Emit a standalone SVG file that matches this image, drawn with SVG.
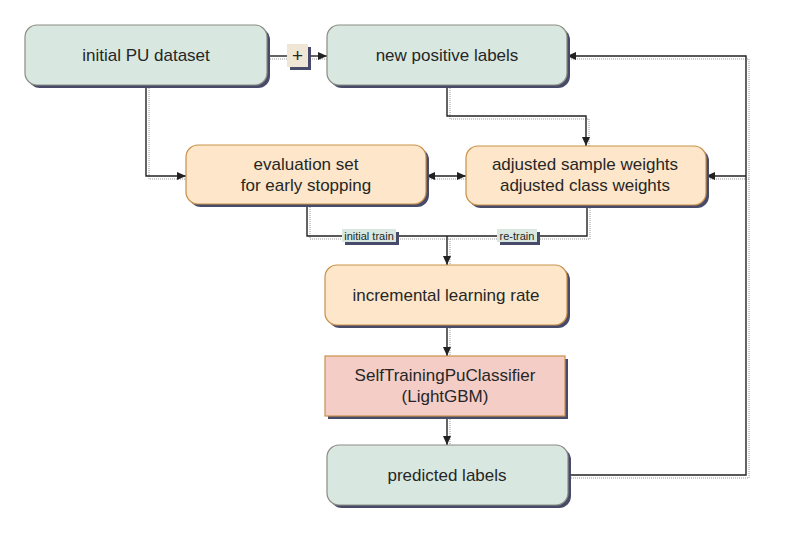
<svg xmlns="http://www.w3.org/2000/svg" width="785" height="538" viewBox="0 0 785 538">
<defs>
<marker id="ah" markerWidth="10" markerHeight="10" refX="9" refY="5" orient="auto" markerUnits="userSpaceOnUse">
<path d="M0,1 L9,5 L0,9 Z" fill="#222"/>
</marker>
<marker id="ahs" markerWidth="10" markerHeight="10" refX="1" refY="5" orient="auto" markerUnits="userSpaceOnUse">
<path d="M10,1 L1,5 L10,9 Z" fill="#222"/>
</marker>
</defs>
<style>
text{font-family:"Liberation Sans",Arial,sans-serif;font-size:17px;fill:#262626;text-anchor:middle}
.sh{fill:#474a68}
.g{fill:#d8e8e0;stroke:#8c8c84;stroke-width:1.2}
.o{fill:#fde6c9;stroke:#c8914a;stroke-width:1.2}
.p{fill:#f4cdc7;stroke:#c8914a;stroke-width:1.2}
.c{fill:none;stroke:#222;stroke-width:1.4}
.cs{fill:none;stroke:#999;stroke-width:1;stroke-dasharray:1 1}
.lb{font-size:11px}
</style>
<rect width="785" height="538" fill="#fff"/>
<g id="connectors">
<g class="cs" transform="translate(3,3)">
<path d="M267,56 H287 M307,56 H327"/>
<path d="M146,85 V176 H186"/>
<path d="M447,85 V116 H586 V146"/>
<path d="M426,176 H466"/>
<path d="M307,204 V236 H587 V205"/>
<path d="M447,236 V265"/>
<path d="M447,325 V356"/>
<path d="M447,416 V445"/>
<path d="M568,475 H746 V56 H567 M746,176 H706"/>
</g>
<path class="c" d="M267,56 H287"/>
<path class="c" d="M307,56 H327" marker-end="url(#ah)"/>
<path class="c" d="M146,85 V176 H186" marker-end="url(#ah)"/>
<path class="c" d="M447,85 V116 H586 V146" marker-end="url(#ah)"/>
<path class="c" d="M426,176 H466" marker-start="url(#ahs)" marker-end="url(#ah)"/>
<path class="c" d="M307,204 V236 H587 V205"/>
<path class="c" d="M447,236 V265" marker-end="url(#ah)"/>
<path class="c" d="M447,325 V356" marker-end="url(#ah)"/>
<path class="c" d="M447,416 V445" marker-end="url(#ah)"/>
<path class="c" d="M568,475 H746 V56 H567" marker-end="url(#ah)"/>
<path class="c" d="M746,176 H706" marker-end="url(#ah)"/>
<g id="lbl-initial">
<rect x="345" y="232" width="54" height="13" class="sh"/>
<rect x="342" y="229" width="54" height="13" fill="#d8e8e0"/>
<text x="369" y="240" class="lb">initial train</text>
</g>
<g id="lbl-retrain">
<rect x="500" y="232" width="40" height="13" class="sh"/>
<rect x="497" y="229" width="40" height="13" fill="#d8e8e0"/>
<text x="517" y="240" class="lb">re-train</text>
</g>
<g id="plus">
<rect x="290" y="47" width="21" height="23" class="sh"/>
<rect x="287" y="44" width="21" height="23" fill="#f0e6d6"/>
<text x="297.5" y="62" style="font-size:19px">+</text>
</g>
</g>
<g id="initial-pu">
<rect x="28" y="28" width="242" height="60" rx="12" class="sh"/>
<rect x="25" y="25" width="242" height="60" rx="12" class="g"/>
<text x="146" y="61">initial PU dataset</text>
</g>
<g id="new-positive">
<rect x="330" y="28" width="240" height="60" rx="12" class="sh"/>
<rect x="327" y="25" width="240" height="60" rx="12" class="g"/>
<text x="447" y="61">new positive labels</text>
</g>
<g id="evaluation">
<rect x="189" y="148" width="240" height="59" rx="12" class="sh"/>
<rect x="186" y="145" width="240" height="59" rx="12" class="o"/>
<text x="306" y="170">evaluation set</text>
<text x="306" y="191">for early stopping</text>
</g>
<g id="weights">
<rect x="469" y="149" width="240" height="59" rx="12" class="sh"/>
<rect x="466" y="146" width="240" height="59" rx="12" class="o"/>
<text x="585" y="170">adjusted sample weights</text>
<text x="585" y="191">adjusted class weights</text>
</g>
<g id="incremental">
<rect x="328" y="268" width="242" height="60" rx="12" class="sh"/>
<rect x="325" y="265" width="242" height="60" rx="12" class="o"/>
<text x="446" y="301">incremental learning rate</text>
</g>
<g id="classifier">
<rect x="328" y="359" width="240" height="60" class="sh"/>
<rect x="325" y="356" width="240" height="60" class="p"/>
<text x="445" y="381">SelfTrainingPuClassifier</text>
<text x="445" y="402">(LightGBM)</text>
</g>
<g id="predicted">
<rect x="330" y="448" width="241" height="60" rx="12" class="sh"/>
<rect x="327" y="445" width="241" height="60" rx="12" class="g"/>
<text x="447" y="481">predicted labels</text>
</g>
</svg>
